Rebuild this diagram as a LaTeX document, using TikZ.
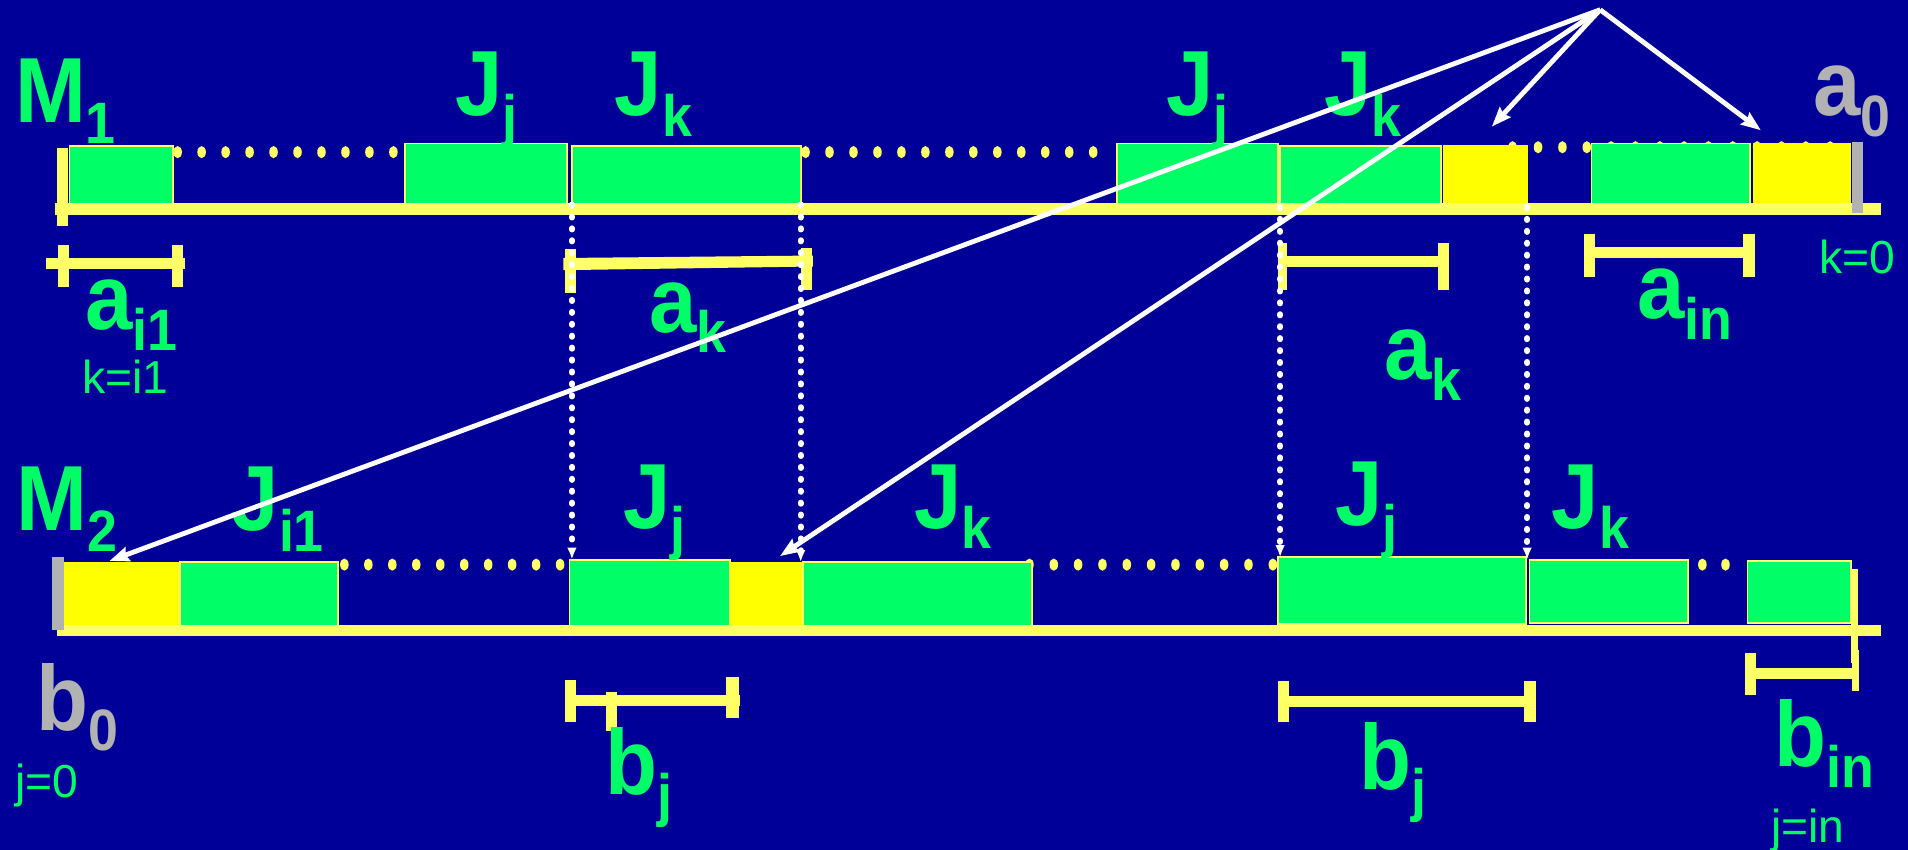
\documentclass[tikz,border=0pt]{standalone}
\usepackage{fontspec}
\setmainfont{Liberation Sans}
\newfontfamily\labfont[FakeStretch=0.92]{Liberation Sans Bold}
\usetikzlibrary{arrows.meta}
\definecolor{bgblue}{RGB}{0,0,153}
\definecolor{grn}{RGB}{0,255,102}
\definecolor{ylw}{RGB}{255,255,0}
\definecolor{lylw}{RGB}{255,255,102}
\definecolor{gry}{RGB}{178,178,178}
\newcommand\sublbl[2]{#1\raisebox{-8.5pt}{\fontsize{24}{24}\selectfont #2}}
\newcommand\blk[6]{\node[#2, minimum width={(#5-#3)*0.5pt}, minimum height={(#6-#4)*0.5pt}] (#1) at (#3,#4) {};}
\begin{document}
\begin{tikzpicture}[x=0.5pt,y=-0.5pt,
  jobbox/.style={draw=lylw, line width=0.7pt, fill=grn, inner sep=0pt, outer sep=0pt, anchor=north west},
  idlebox/.style={draw=ylw, line width=0.5pt, fill=ylw, inner sep=0pt, outer sep=0pt, anchor=north west},
  lab/.style={text=grn, font=\fontsize{38}{38}\selectfont\labfont, anchor=base west, inner sep=0pt},
  greylab/.style={lab, text=gry},
  small/.style={text=grn, font=\fontsize{19}{19}\selectfont, anchor=base west, inner sep=0pt},
  ptr/.style={draw=white, line width=2pt, -{Stealth[length=8pt,width=6pt,inset=1pt]}},
  dotptr/.style={draw=white, line width=2.4pt, line cap=round, dash pattern=on 0.5pt off 4.4pt, -{Latex[length=5pt,width=4pt]}}
]
\useasboundingbox (0,0) rectangle (1568,698.5);
\fill[bgblue] (0,0) rectangle (1568,698.5);

% ---------- M1 row ----------
\foreach \x in {146,165.7,...,325} {\fill[lylw] (\x,125) ellipse [x radius=3.5, y radius=5];}
\foreach \x in {662,681.7,...,915} {\fill[lylw] (\x,125) ellipse [x radius=3.5, y radius=5];}
\foreach \x in {1243,1264,1284,1304,1324,1344,1364,1384,1404,1424,1444,1464,1484,1504} {\fill[lylw] (\x,121) ellipse [x radius=3.5, y radius=5];}

\blk{g1}{jobbox}{57}{120}{142}{173}
\blk{g2}{jobbox}{333}{118}{466}{168}
\blk{g3}{jobbox}{470}{120}{658}{168}
\blk{g4}{jobbox}{918}{118}{1050}{170}
\blk{g5}{jobbox}{1052}{120}{1184}{170}
\blk{y1}{idlebox}{1186}{120}{1255}{170}
\blk{g6}{jobbox}{1308}{118}{1438}{168}
\blk{y2}{idlebox}{1441}{118}{1521}{170}

\fill[lylw] (45,167) rectangle (1546,177);
\fill[lylw] (47,122) rectangle (56,186);
\fill[gry] (1522,117) rectangle (1531,175);

% labels M1 row
\node[lab] (m1) at (12,101) {\sublbl{M}{1}};
\node[lab] (lj1) at (374,95) {\sublbl{J}{j}};
\node[lab] (lk1) at (505,95) {\sublbl{J}{k}};
\node[lab] (lj2) at (958,95) {\sublbl{J}{j}};
\node[lab] (lk2) at (1088,95) {\sublbl{J}{k}};
\node[greylab] (a0) at (1490,95) {\sublbl{a}{0}};
\node[small] (k0) at (1495,225) {k=0};

% brackets under M1
\fill[lylw] (38,212) rectangle (152,221);
\fill[lylw] (48,201) rectangle (57,236);
\fill[lylw] (141,201) rectangle (150,236);
\fill[lylw] (463,212) -- (668,210) -- (668,219) -- (463,222) -- cycle;
\fill[lylw] (464,205) rectangle (473,241);
\fill[lylw] (658,204) rectangle (667,238);
\fill[lylw] (1052,210) rectangle (1189,219);
\fill[lylw] (1050,200) rectangle (1058,238);
\fill[lylw] (1182,200) rectangle (1191,238);
\fill[lylw] (1303,203) rectangle (1441,212);
\fill[lylw] (1302,192) rectangle (1311,228);
\fill[lylw] (1432,192) rectangle (1442,228);

\node[lab] (ai1) at (70,271) {\sublbl{a}{i1}};
\node[small] (ki1) at (67,323) {k=i1};
\node[lab] (ak1) at (533,273) {\sublbl{a}{k}};
\node[lab] (ak2) at (1137,312) {\sublbl{a}{k}};
\node[lab] (ain) at (1345,262) {\sublbl{a}{in}};

% ---------- M2 row ----------
\foreach \x in {283,302.7,...,465} {\fill[lylw] (\x,464) ellipse [x radius=3.5, y radius=5];}
\foreach \x in {846,866,...,1046} {\fill[lylw] (\x,464) ellipse [x radius=3.5, y radius=5];}
\foreach \x in {1399,1418} {\fill[lylw] (\x,464) ellipse [x radius=3.5, y radius=5];}

\blk{ym1}{idlebox}{52}{462}{148}{517}
\blk{gm1}{jobbox}{148}{462}{278}{517}
\blk{gm2}{jobbox}{468}{460}{600}{515}
\blk{ym2}{idlebox}{600}{462}{660}{517}
\blk{gm3}{jobbox}{660}{462}{848}{517}
\blk{gm4}{jobbox}{1050}{458}{1254}{513}
\blk{gm5}{jobbox}{1257}{460}{1387}{512}
\blk{gm6}{jobbox}{1436}{461}{1521}{512}

\fill[lylw] (47,514) rectangle (1546,523);
\fill[gry] (43,458) rectangle (53,518);
\fill[lylw] (1521,468) rectangle (1527,545);

\node[lab] (m2) at (13,436) {\sublbl{M}{2}};
\node[lab] (li1) at (190,436) {\sublbl{J}{i1}};
\node[lab] (lj3) at (512,434) {\sublbl{J}{j}};
\node[lab] (lk3) at (751,434) {\sublbl{J}{k}};
\node[lab] (lj4) at (1097,432) {\sublbl{J}{j}};
\node[lab] (lk4) at (1275,434) {\sublbl{J}{k}};

% brackets under M2
\fill[lylw] (468,571) rectangle (608,580);
\fill[lylw] (464,559) rectangle (473,593);
\fill[lylw] (498,569) rectangle (507,601);
\fill[lylw] (597,556) rectangle (607,590);
\fill[lylw] (1052,572) rectangle (1260,581);
\fill[lylw] (1050,560) rectangle (1059,593);
\fill[lylw] (1252,560) rectangle (1262,593);
\fill[lylw] (1436,549) rectangle (1528,558);
\fill[lylw] (1434,537) rectangle (1443,571);
\fill[lylw] (1522,534) rectangle (1528,568);

\node[greylab] (b0) at (30,600) {\sublbl{b}{0}};
\node[small] (j0) at (12,655) {j=0};
\node[lab] (bj1) at (497,653) {\sublbl{b}{j}};
\node[lab] (bj2) at (1117,649) {\sublbl{b}{j}};
\node[lab] (bin) at (1458,630) {\sublbl{b}{in}};
\node[small] (jin) at (1455,692) {j=in};

% ---------- dotted transfer lines ----------
\draw[dotptr] (g3.south west) -- (g3.south west |- gm2.north);
\draw[dotptr] (g3.south east) -- (g3.south east |- ym2.north);
\draw[dotptr] (g5.south west) -- (g5.south west |- gm4.north);
\draw[dotptr] (y1.south east) -- (y1.south east |- gm5.north);

% ---------- idle pointers ----------
\coordinate (src) at (1315,8);
\coordinate (t1) at (90,461);
\coordinate (t2) at (641,457);
\coordinate (t3) at (1226,104);
\coordinate (t4) at (1447,107);
\draw[ptr] (src) -- (t1);
\draw[ptr] (src) -- (t2);
\draw[ptr] (src) -- (t3);
\draw[ptr] (src) -- (t4);
\end{tikzpicture}
\end{document}
